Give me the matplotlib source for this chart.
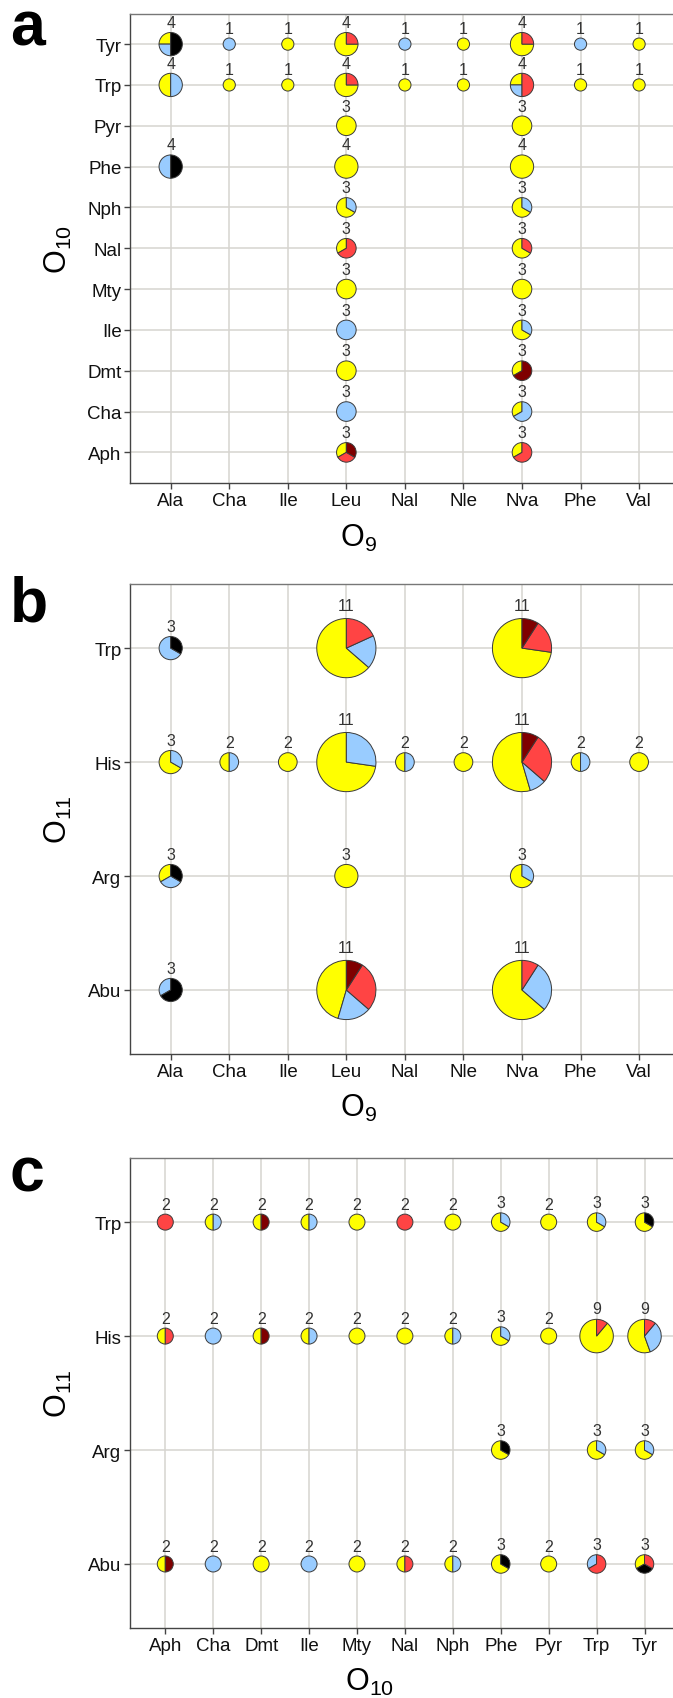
import matplotlib
matplotlib.use('Agg')
import matplotlib.pyplot as plt
import matplotlib.transforms as mtransforms
from matplotlib.patches import Wedge, Circle

plt.rcParams['font.family'] = ['Liberation Sans', 'DejaVu Sans']
plt.rcParams['mathtext.fontset'] = 'custom'
plt.rcParams['mathtext.rm'] = 'Liberation Sans'
plt.rcParams['mathtext.default'] = 'regular'

# categorías
o9 = ['Ala', 'Cha', 'Ile', 'Leu', 'Nal', 'Nle', 'Nva', 'Phe', 'Val']
o10 = ['Aph', 'Cha', 'Dmt', 'Ile', 'Mty', 'Nal', 'Nph', 'Phe', 'Pyr', 'Trp', 'Tyr']
o11 = ['Abu', 'Arg', 'His', 'Trp']

# panel a: O9 (x) vs O10 (y)
a_x = ['Ala', 'Cha', 'Ile', 'Leu', 'Nal', 'Nle', 'Nva', 'Phe', 'Val',
       'Ala', 'Cha', 'Ile', 'Leu', 'Nal', 'Nle', 'Nva', 'Phe', 'Val',
       'Leu', 'Nva', 'Ala', 'Leu', 'Nva', 'Leu', 'Nva', 'Leu', 'Nva',
       'Leu', 'Nva', 'Leu', 'Nva', 'Leu', 'Nva', 'Leu', 'Nva', 'Leu', 'Nva']
a_y = ['Tyr'] * 9 + ['Trp'] * 9 + ['Pyr', 'Pyr', 'Phe', 'Phe', 'Phe', 'Nph', 'Nph',
       'Nal', 'Nal', 'Mty', 'Mty', 'Ile', 'Ile', 'Dmt', 'Dmt', 'Cha', 'Cha', 'Aph', 'Aph']
a_yellow  = [1, 0, 1, 3, 0, 1, 3, 0, 1,  2, 1, 1, 3, 1, 1, 1, 1, 1,
             3, 3, 0, 4, 4, 2, 2, 1, 2, 3, 3, 0, 2, 3, 1, 0, 1, 1, 1]
a_blue    = [1, 1, 0, 0, 1, 0, 0, 1, 0,  2, 0, 0, 0, 0, 0, 1, 0, 0,
             0, 0, 2, 0, 0, 1, 1, 0, 0, 0, 0, 3, 1, 0, 0, 3, 2, 0, 0]
a_black   = [2, 0, 0, 0, 0, 0, 0, 0, 0,  0, 0, 0, 0, 0, 0, 0, 0, 0,
             0, 0, 2, 0, 0, 0, 0, 0, 0, 0, 0, 0, 0, 0, 0, 0, 0, 0, 0]
a_red     = [0, 0, 0, 1, 0, 0, 1, 0, 0,  0, 0, 0, 1, 0, 0, 2, 0, 0,
             0, 0, 0, 0, 0, 0, 0, 2, 1, 0, 0, 0, 0, 0, 0, 0, 0, 1, 2]
a_darkred = [0, 0, 0, 0, 0, 0, 0, 0, 0,  0, 0, 0, 0, 0, 0, 0, 0, 0,
             0, 0, 0, 0, 0, 0, 0, 0, 0, 0, 0, 0, 0, 0, 2, 0, 0, 1, 0]

# panel b: O9 (x) vs O11 (y)
b_x = ['Ala', 'Leu', 'Nva',
       'Ala', 'Cha', 'Ile', 'Leu', 'Nal', 'Nle', 'Nva', 'Phe', 'Val',
       'Ala', 'Leu', 'Nva',
       'Ala', 'Leu', 'Nva']
b_y = ['Trp'] * 3 + ['His'] * 9 + ['Arg'] * 3 + ['Abu'] * 3
b_yellow  = [0, 7, 8,  2, 1, 2, 8, 1, 2, 6, 1, 2,  1, 3, 2,  0, 5, 7]
b_blue    = [2, 2, 0,  1, 1, 0, 3, 1, 0, 1, 1, 0,  1, 0, 1,  1, 2, 3]
b_black   = [1, 0, 0,  0, 0, 0, 0, 0, 0, 0, 0, 0,  1, 0, 0,  2, 0, 0]
b_red     = [0, 2, 2,  0, 0, 0, 0, 0, 0, 3, 0, 0,  0, 0, 0,  0, 3, 1]
b_darkred = [0, 0, 1,  0, 0, 0, 0, 0, 0, 1, 0, 0,  0, 0, 0,  0, 1, 0]

# panel c: O10 (x) vs O11 (y)
c_x = o10 + o10 + ['Phe', 'Trp', 'Tyr'] + o10
c_y = ['Trp'] * 11 + ['His'] * 11 + ['Arg'] * 3 + ['Abu'] * 11
c_yellow  = [0, 1, 1, 1, 2, 0, 2, 2, 2, 2, 2,
             1, 0, 1, 1, 2, 2, 1, 2, 2, 8, 5,
             2, 2, 2,
             1, 0, 2, 0, 2, 1, 1, 2, 2, 0, 1]
c_blue    = [0, 1, 0, 1, 0, 0, 0, 1, 0, 1, 0,
             0, 2, 0, 1, 0, 0, 1, 1, 0, 0, 3,
             0, 1, 1,
             0, 2, 0, 2, 0, 0, 1, 0, 0, 1, 0]
c_black   = [0, 0, 0, 0, 0, 0, 0, 0, 0, 0, 1,
             0, 0, 0, 0, 0, 0, 0, 0, 0, 0, 0,
             1, 0, 0,
             0, 0, 0, 0, 0, 0, 0, 1, 0, 0, 1]
c_red     = [2, 0, 0, 0, 0, 2, 0, 0, 0, 0, 0,
             1, 0, 0, 0, 0, 0, 0, 0, 0, 1, 1,
             0, 0, 0,
             0, 0, 0, 0, 0, 1, 0, 0, 0, 2, 1]
c_darkred = [0, 0, 1, 0, 0, 0, 0, 0, 0, 0, 0,
             0, 0, 1, 0, 0, 0, 0, 0, 0, 0, 0,
             0, 0, 0,
             1, 0, 0, 0, 0, 0, 0, 0, 0, 0, 0]

colores = ['#FFFF00', '#99CCFF', '#000000', '#FF4444', '#7F0000']
borde = '#3a3a3a'


def dibujar_pies(ax, xcats, ycats, xs, ys, series, d0, d1):
    for i in range(len(xs)):
        xi = float(xcats.index(xs[i]) + 1)
        yi = float(ycats.index(ys[i]) + 1)
        partes = [s[i] for s in series]
        n = sum(partes)
        r = (d0 + d1 * n) / 2.0  # radio en píxeles
        trans = (mtransforms.Affine2D().scale(r)
                 + mtransforms.ScaledTranslation(xi, yi, ax.transData))
        usados = [(k, p) for k, p in enumerate(partes) if p > 0]
        if len(usados) == 1:
            ax.add_artist(Circle((0, 0), 1, fc=colores[usados[0][0]], ec=borde,
                                 lw=0.7, transform=trans, zorder=3))
        else:
            inicio = 90.0
            for k, p in usados:
                fin = inicio + 360.0 * p / n
                ax.add_artist(Wedge((0, 0), 1, inicio, fin, fc=colores[k], ec=borde,
                                    lw=0.7, transform=trans, zorder=3))
                inicio = fin
        ax.annotate(str(n), (xi, yi), xytext=(0, (r * 1.15 + 4) * 0.72),
                    textcoords='offset points', ha='center', va='baseline',
                    fontsize=11.5, color='#333333', zorder=4)


def estilo(ax, xcats, ycats, xlim, ylim, xlabel, ylabel, xlab_pos):
    ax.set_xlim(xlim)
    ax.set_ylim(ylim)
    ax.set_xticks(range(1, len(xcats) + 1), xcats)
    ax.set_yticks(range(1, len(ycats) + 1), ycats)
    ax.grid(True, color='#d6d4d0', lw=1.1)
    ax.set_axisbelow(True)
    for lado, s in ax.spines.items():
        s.set_color('#444444' if lado in ('left', 'bottom') else '#777777')
        s.set_linewidth(1.0)
    ax.tick_params(length=4.3, width=1.0, color='#444444', labelsize=13.5,
                   pad=2, labelcolor='#111111')
    ax.set_xlabel(xlabel, fontsize=22, va='center')
    ax.xaxis.set_label_coords(xlab_pos, -0.115)
    ax.set_ylabel(ylabel, fontsize=22, va='center')
    ax.yaxis.set_label_coords(-0.13, 0.5)


fig = plt.figure(figsize=(6.73, 16.99), dpi=100)
W, H = 673.0, 1699.0
izq, ancho, alto = 130.3 / W, 549.2 / W, 469.5 / H

ax_a = fig.add_axes([izq, 1 - 484.0 / H, ancho, alto])
ax_b = fig.add_axes([izq, 1 - 1054.8 / H, ancho, alto])
ax_c = fig.add_axes([izq, 1 - 1628.8 / H, ancho, alto])

estilo(ax_a, o9, o10, (0.31, 9.69), (0.25, 11.75), r'O$_{9}$', r'O$_{10}$', 0.415)
estilo(ax_b, o9, o11, (0.31, 9.69), (0.44, 4.56), r'O$_{9}$', r'O$_{11}$', 0.415)
estilo(ax_c, o10, o11, (0.27, 11.73), (0.44, 4.56), r'O$_{10}$', r'O$_{11}$', 0.435)

dibujar_pies(ax_a, o9, o10, a_x, a_y, [a_yellow, a_blue, a_black, a_red, a_darkred], 8.5, 3.7)
dibujar_pies(ax_b, o9, o11, b_x, b_y, [b_yellow, b_blue, b_black, b_red, b_darkred], 9.7, 4.5)
dibujar_pies(ax_c, o10, o11, c_x, c_y, [c_yellow, c_blue, c_black, c_red, c_darkred], 11.0, 2.5)

# letras de los paneles
for letra, base in [('a', 46), ('b', 622), ('c', 1191)]:
    fig.text(10 / W, 1 - base / H, letra, fontsize=45, fontweight='bold',
             ha='left', va='baseline')

fig.savefig('out.png', dpi=100)
